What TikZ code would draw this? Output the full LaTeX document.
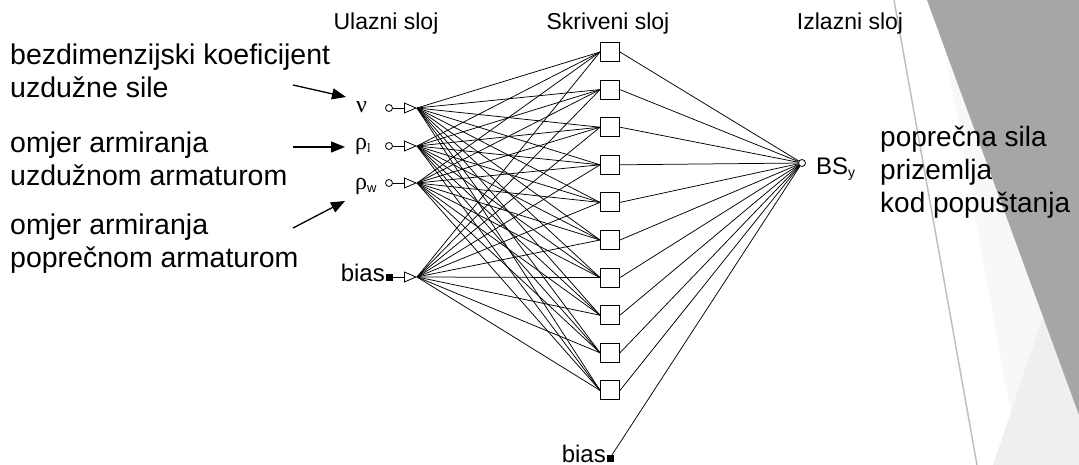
\documentclass[tikz,border=0pt]{standalone}
\usepackage{fontspec}
\setmainfont{Liberation Sans}
\newfontfamily\grfont{Liberation Serif}
\usetikzlibrary{arrows.meta}
\definecolor{bgdark}{HTML}{A6A6A6}
\definecolor{bglight}{HTML}{EFEFEF}
\definecolor{bgvlight}{HTML}{F8F8F8}
\definecolor{bgline}{HTML}{BFBFBF}
\begin{document}
\begin{tikzpicture}[x=1pt,y=-1pt,
  lab/.style={font=\fontsize{28.5}{33}\selectfont, anchor=base west, inner sep=0pt},
  rlab/.style={font=\fontsize{28}{33}\selectfont, anchor=base west, inner sep=0pt},
  hdr/.style={font=\fontsize{23}{26}\selectfont, anchor=base, inner sep=0pt},
  sym/.style={font=\grfont\fontsize{24}{26}\selectfont, anchor=base west, inner sep=0pt},
  small/.style={font=\fontsize{24}{26}\selectfont, inner sep=0pt},
  hid/.style={draw, fill=white, minimum size=19pt, inner sep=0pt, line width=0.9pt},
  neur/.style={draw, circle, fill=white, minimum size=7pt, inner sep=0pt, line width=0.8pt},
  biasq/.style={draw, fill=black, minimum size=6pt, inner sep=0pt},
  conn/.style={line width=0.75pt},
  tri/.style={line width=0.8pt, -{Triangle[open, length=13pt, width=11pt, fill=white]}},
  ptr/.style={line width=1.3pt, -{Triangle[length=14pt, width=11pt]}}
]
\useasboundingbox (0,0) rectangle (1079,465);
% background
\fill[bgvlight] (936,0) -- (1020,465) -- (1079,465) -- (1079,0) -- cycle;
\fill[bglight] (993,465) -- (1079,210) -- (1079,465) -- cycle;
\fill[bgdark] (927,0) -- (1079,0) -- (1079,415) -- cycle;
\draw[bgline, line width=1.5pt] (894,0) -- (977,465);

% headers
\node[hdr] (hU) at (386,30) {Ulazni sloj};
\node[hdr] (hS) at (608,30) {Skriveni sloj};
\node[hdr] (hI) at (850,30) {Izlazni sloj};

% left labels
\node[lab] (l1) at (10,65) {bezdimenzijski koeficijent};
\node[lab] (l2) at (10,98) {uzdužne sile};
\node[lab] (l3) at (10,153) {omjer armiranja};
\node[lab] (l4) at (10,186) {uzdužnom armaturom};
\node[lab] (l5) at (10,235) {omjer armiranja};
\node[lab] (l6) at (10,267) {poprečnom armaturom};

% right labels
\node[rlab] (r1) at (880,147) {poprečna sila};
\node[rlab] (r2) at (880,180) {prizemlja};
\node[rlab] (r3) at (880,213) {kod popuštanja};

% input symbols
\node[sym] (s1) at (356,113) {ν};
\node[sym] (s2) at (355,150) {ρ\raisebox{-3pt}{\fontsize{13}{13}\selectfont l}};
\node[sym] (s3) at (355,190) {ρ\raisebox{-2pt}{\fontsize{13}{13}\selectfont\sffamily\fontspec{Liberation Sans}w}};
\node[small, anchor=base east] (sb) at (385,281) {bias};

% pointer arrows
\coordinate (p1s) at (293,85);  \coordinate (p1e) at (346,97);
\coordinate (p2s) at (293,147); \coordinate (p2e) at (345,147);
\coordinate (p3s) at (293,228); \coordinate (p3e) at (345,201);
\draw[ptr] (p1s) -- (p1e);
\draw[ptr] (p2s) -- (p2e);
\draw[ptr] (p3s) -- (p3e);

% input neurons
\node[neur] (c1) at (389,108) {};
\node[neur] (c2) at (389,146) {};
\node[neur] (c3) at (389,183) {};
\node[biasq] (c4) at (389,277) {};
\coordinate (t1) at (417,108);
\coordinate (t2) at (417,146);
\coordinate (t3) at (417,183);
\coordinate (t4) at (417,277);

% hidden neurons
\foreach \k in {1,...,10} {
  \node[hid] (h\k) at (610,{52+37.6*(\k-1)}) {};
}

% output
\node[neur] (out) at (802,163) {};
\node[small, anchor=base west] (bsy) at (816,175) {BS\raisebox{-3pt}{\fontsize{14}{14}\selectfont y}};

% bias of hidden layer
\node[biasq] (b2) at (610,458) {};
\node[small, anchor=base east] (b2t) at (606,462) {bias};

% connections
\foreach \i in {1,...,4} {
  \foreach \k in {1,...,10} {
    \draw[conn] (t\i) -- (h\k.west);
  }
}
\foreach \k in {1,...,10} {
  \draw[conn] (h\k.east) -- (out);
}
\draw[conn] (b2) -- (out);
\foreach \i in {1,...,4} {
  \draw[tri] (c\i) -- (t\i);
}
\end{tikzpicture}
\end{document}
